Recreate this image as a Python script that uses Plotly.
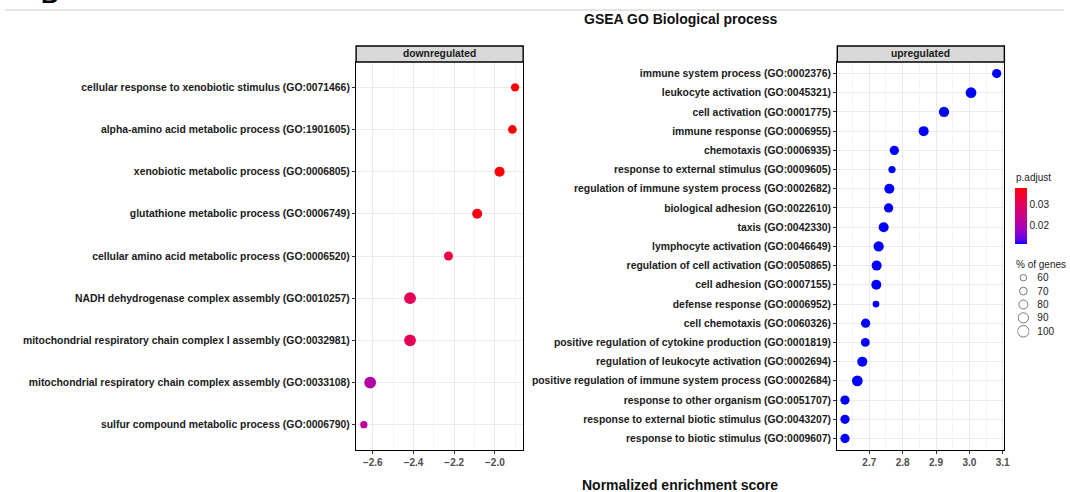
import plotly.graph_objects as go
import numpy as np

# ---------------- data ----------------
down_terms = [
    "cellular response to xenobiotic stimulus (GO:0071466)",
    "alpha-amino acid metabolic process (GO:1901605)",
    "xenobiotic metabolic process (GO:0006805)",
    "glutathione metabolic process (GO:0006749)",
    "cellular amino acid metabolic process (GO:0006520)",
    "NADH dehydrogenase complex assembly (GO:0010257)",
    "mitochondrial respiratory chain complex I assembly (GO:0032981)",
    "mitochondrial respiratory chain complex assembly (GO:0033108)",
    "sulfur compound metabolic process (GO:0006790)",
]
down_nes = [-1.901, -1.914, -1.977, -2.087, -2.228, -2.417, -2.417, -2.613, -2.644]
down_padj = [0.0381, 0.0379, 0.0377, 0.0370, 0.0330, 0.0305, 0.0305, 0.0210, 0.0228]
down_pct = [74, 78, 88, 88, 80, 102, 102, 102, 66]

up_terms = [
    "immune system process (GO:0002376)",
    "leukocyte activation (GO:0045321)",
    "cell activation (GO:0001775)",
    "immune response (GO:0006955)",
    "chemotaxis (GO:0006935)",
    "response to external stimulus (GO:0009605)",
    "regulation of immune system process (GO:0002682)",
    "biological adhesion (GO:0022610)",
    "taxis (GO:0042330)",
    "lymphocyte activation (GO:0046649)",
    "regulation of cell activation (GO:0050865)",
    "cell adhesion (GO:0007155)",
    "defense response (GO:0006952)",
    "cell chemotaxis (GO:0060326)",
    "positive regulation of cytokine production (GO:0001819)",
    "regulation of leukocyte activation (GO:0002694)",
    "positive regulation of immune system process (GO:0002684)",
    "response to other organism (GO:0051707)",
    "response to external biotic stimulus (GO:0043207)",
    "response to biotic stimulus (GO:0009607)",
]
up_nes = [3.082, 3.005, 2.924, 2.863, 2.775, 2.768, 2.760, 2.758, 2.743, 2.728,
          2.722, 2.721, 2.720, 2.689, 2.688, 2.679, 2.664, 2.627, 2.627, 2.627]
up_padj = [0.0114, 0.0114, 0.0114, 0.0114, 0.0114, 0.0114, 0.0114, 0.0114, 0.0114, 0.0114,
           0.0114, 0.0114, 0.0114, 0.0114, 0.0114, 0.0114, 0.0114, 0.0114, 0.0114, 0.0114]
up_pct = [82, 94, 90, 88, 82, 66, 88, 82, 88, 90,
          88, 88, 62, 82, 78, 88, 94, 82, 82, 82]

size_breaks = [60, 70, 80, 90, 100]
size_labels = [str(b) for b in size_breaks]
padj_ticks = [0.02, 0.03]

panel_titles = ["downregulated", "upregulated"]
main_title = "GSEA GO Biological process"
x_title = "Normalized enrichment score"
size_title = "% of genes"
color_title = "p.adjust"

# ---------------- styling helpers ----------------
W, H = 1070, 492
FONT = "Liberation Sans, Arial, sans-serif"
KX = 1.006  # small horizontal calibration of the pixel layout


def px_x(v):
    return min(v * KX / W, 1.0)


def px_y(v):  # v measured from top
    return (H - v) / H


def pct_to_px(p):
    return 0.125 * p - 1.0


# blue -> red gradient interpolated in CIE Lab (like ggplot2)
def _srgb_to_lin(c):
    c = c / 255.0
    return np.where(c <= 0.04045, c / 12.92, ((c + 0.055) / 1.055) ** 2.4)


def _lin_to_srgb(c):
    c = np.clip(c, 0, 1)
    return np.where(c <= 0.0031308, 12.92 * c, 1.055 * c ** (1 / 2.4) - 0.055) * 255


M = np.array([[0.4124, 0.3576, 0.1805], [0.2126, 0.7152, 0.0722], [0.0193, 0.1192, 0.9505]])
Minv = np.linalg.inv(M)
WP = np.array([0.95047, 1.0, 1.08883])


def _f(t):
    d = 6 / 29
    return np.where(t > d ** 3, np.cbrt(t), t / (3 * d * d) + 4 / 29)


def _finv(t):
    d = 6 / 29
    return np.where(t > d, t ** 3, 3 * d * d * (t - 4 / 29))


def rgb_to_lab(rgb):
    xyz = M @ _srgb_to_lin(np.array(rgb, float)) / WP
    fx, fy, fz = _f(xyz)
    return np.array([116 * fy - 16, 500 * (fx - fy), 200 * (fy - fz)])


def lab_to_rgb(lab):
    L, a, b = lab
    fy = (L + 16) / 116
    fx = fy + a / 500
    fz = fy - b / 200
    xyz = np.array([_finv(fx), _finv(fy), _finv(fz)]) * WP
    return _lin_to_srgb(Minv @ xyz)


lab_lo = rgb_to_lab([0, 0, 255])
lab_hi = rgb_to_lab([255, 0, 0])
colorscale = []
for t in np.linspace(0, 1, 21):
    r, g, b = lab_to_rgb(lab_lo + (lab_hi - lab_lo) * t)
    colorscale.append([float(t), "rgb(%d,%d,%d)" % (round(r), round(g), round(b))])

all_padj = down_padj + up_padj

fig = go.Figure()

fig.add_trace(go.Scatter(
    x=down_nes, y=down_terms, mode="markers", xaxis="x", yaxis="y",
    marker=dict(size=[pct_to_px(p) for p in down_pct], color=down_padj, opacity=1,
                coloraxis="coloraxis", line=dict(width=0)),
    showlegend=False, hoverinfo="x+y"))

fig.add_trace(go.Scatter(
    x=up_nes, y=up_terms, mode="markers", xaxis="x2", yaxis="y2",
    marker=dict(size=[pct_to_px(p) for p in up_pct], color=up_padj, opacity=1,
                coloraxis="coloraxis", line=dict(width=0)),
    showlegend=False, hoverinfo="x+y"))

# size key ("% of genes") drawn on its own small axis
fig.add_trace(go.Scatter(
    x=[0] * len(size_breaks), y=size_labels, mode="markers", xaxis="x3", yaxis="y3",
    marker=dict(size=[pct_to_px(b) for b in size_breaks], color="rgba(255,255,255,0)", opacity=1,
                line=dict(color="#555", width=0.8)),
    showlegend=False, hoverinfo="skip"))

# panel geometry (pixels)
L1, R1 = 356, 523
L2, R2 = 837, 1004
TOP, BOT = 62, 450
STRIP_TOP = 46

grid_major = "#EBEBEB"
grid_minor = "#F4F4F4"

common_x = dict(showline=True, mirror=True, linecolor="black", linewidth=1.4,
                ticks="outside", ticklen=3, tickcolor="#333", tickwidth=1,
                tickfont=dict(family=FONT, size=10, color="#4D4D4D", weight="bold"),
                tickformat=".1f",
                gridcolor=grid_major, gridwidth=1, zeroline=False, showgrid=True)
common_y = dict(showline=True, mirror=True, linecolor="black", linewidth=1.4,
                ticks="outside", ticklen=3, tickcolor="#333", tickwidth=1,
                tickfont=dict(family=FONT, size=10.4, color="#1A1A1A", weight="bold"),
                gridcolor=grid_major, gridwidth=1, zeroline=False, showgrid=True,
                type="category")

fig.update_layout(
    width=W, height=H, autosize=False,
    margin=dict(l=0, r=0, t=0, b=0),
    paper_bgcolor="white", plot_bgcolor="white",
    font=dict(family=FONT),
    showlegend=False,
    xaxis=dict(domain=[px_x(L1), px_x(R1)], range=[-2.682, -1.861], tick0=-2.6, dtick=0.2,
               minor=dict(dtick=0.1, tick0=-2.7, showgrid=True, gridcolor=grid_minor, gridwidth=0.6, ticks=""),
               anchor="y", **common_x),
    yaxis=dict(domain=[px_y(BOT), px_y(TOP)], categoryorder="array", categoryarray=down_terms,
               range=[len(down_terms) - 0.4, -0.6], anchor="x", **common_y),
    xaxis2=dict(domain=[px_x(L2), px_x(R2)], range=[2.604, 3.105], tick0=2.7, dtick=0.1,
                minor=dict(dtick=0.05, tick0=2.65, showgrid=True, gridcolor=grid_minor, gridwidth=0.6, ticks=""),
                anchor="y2", **common_x),
    yaxis2=dict(domain=[px_y(BOT), px_y(TOP)], categoryorder="array", categoryarray=up_terms,
                range=[len(up_terms) - 0.4, -0.6], anchor="x2", **common_y),
    xaxis3=dict(domain=[px_x(1017), px_x(1029)], range=[-1, 1], visible=False, fixedrange=True),
    yaxis3=dict(domain=[px_y(338), px_y(271)], type="category", categoryorder="array",
                categoryarray=size_labels, range=[len(size_labels) - 0.5, -0.5],
                anchor="x3", side="right", showline=False, showgrid=False, zeroline=False,
                ticks="outside", ticklen=5, tickcolor="rgba(0,0,0,0)",
                tickfont=dict(family=FONT, size=10, color="#222"), fixedrange=True),
    coloraxis=dict(colorscale=colorscale, cmin=min(all_padj), cmax=max(all_padj),
                   colorbar=dict(tickvals=padj_ticks, ticktext=[str(t) for t in padj_ticks],
                                 tickfont=dict(family=FONT, size=10, color="#222"),
                                 ticks="", thickness=12, len=56, lenmode="pixels",
                                 x=px_x(1015), xanchor="left", y=px_y(188), yanchor="top",
                                 xpad=0, ypad=0, outlinewidth=0)),
)

shapes = []
annotations = []
for (l, r), t in zip([(L1, R1), (L2, R2)], panel_titles):
    shapes.append(dict(type="rect", xref="paper", yref="paper",
                       x0=px_x(l), x1=px_x(r), y0=px_y(TOP), y1=px_y(STRIP_TOP),
                       fillcolor="#D9D9D9", line=dict(color="black", width=1.4)))
    annotations.append(dict(text=t, xref="paper", yref="paper",
                            x=px_x((l + r) / 2), y=px_y((TOP + STRIP_TOP) / 2),
                            xanchor="center", yanchor="middle", showarrow=False,
                            font=dict(family=FONT, size=10.3, color="#1A1A1A", weight="bold")))

# thin rule along the top of the figure
shapes.append(dict(type="line", xref="paper", yref="paper", x0=px_x(5), x1=1, y0=px_y(10), y1=px_y(10),
                   line=dict(color="#C8C8C8", width=1)))

annotations.append(dict(text=main_title, xref="paper", yref="paper", x=px_x(680), y=px_y(19),
                        xanchor="center", yanchor="middle", showarrow=False,
                        font=dict(family=FONT, size=14, color="#111", weight="bold")))
annotations.append(dict(text=x_title, xref="paper", yref="paper", x=px_x(680), y=px_y(484.5),
                        xanchor="center", yanchor="middle", showarrow=False,
                        font=dict(family=FONT, size=14, color="#111", weight="bold")))
annotations.append(dict(text=color_title, xref="paper", yref="paper", x=px_x(1014), y=px_y(177),
                        xanchor="left", yanchor="middle", showarrow=False,
                        font=dict(family=FONT, size=10, color="#222")))
annotations.append(dict(text=size_title, xref="paper", yref="paper", x=px_x(1014), y=px_y(264),
                        xanchor="left", yanchor="middle", showarrow=False,
                        font=dict(family=FONT, size=10, color="#222")))
# cut-off panel letter at the very top-left
annotations.append(dict(text="B", xref="paper", yref="paper", x=px_x(39), y=px_y(10),
                        xanchor="left", yanchor="bottom", showarrow=False,
                        font=dict(family=FONT, size=24, color="black", weight="bold")))

fig.update_layout(shapes=shapes, annotations=annotations)

fig.write_html(
    "out.html",
    config={"displayModeBar": False},
    post_script=("document.body.style.margin='0px';"
                 "document.body.style.overflow='hidden';"
                 "document.documentElement.style.overflow='hidden';"),
)
